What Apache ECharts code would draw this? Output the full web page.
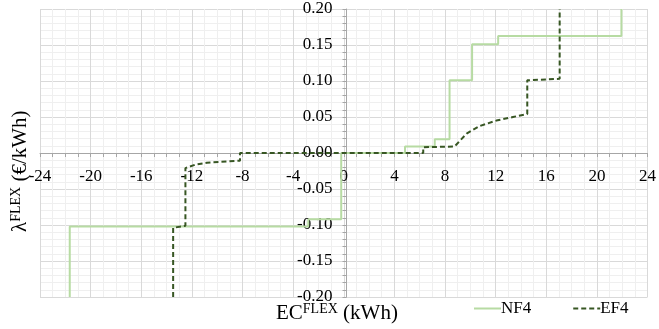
<!DOCTYPE html>
<html>
<head>
<meta charset="utf-8">
<script src="https://cdn.jsdelivr.net/npm/echarts@6/dist/echarts.min.js"></script>
<style>html,body{margin:0;padding:0;background:#fff}#c{width:659px;height:329px}</style>
</head>
<body>
<div id="c"></div>
<script>
// Data
const seriesNames = ['NF4', 'EF4'];
const nf4X = [-21.65, -21.65, -2.8, -2.8, -0.2, -0.2, 4.84, 4.84, 7.19, 7.19, 8.36, 8.36, 10.14, 10.14, 12.2, 12.2, 21.94, 21.94];
const nf4Y = [-0.20, -0.102, -0.102, -0.092, -0.092, 0, 0, 0.009, 0.009, 0.019, 0.019, 0.101, 0.101, 0.151, 0.151, 0.1625, 0.1625, 0.20];
const ef4X = [-13.48, -13.48, -12.51, -12.51, -11.7, -10.82, -8.2, -8.2, 6.28, 6.28, 8.75, 9.71, 10.75, 12.06, 13.37, 14.5, 14.5, 17.06, 17.06];
const ef4Y = [-0.20, -0.104, -0.101, -0.021, -0.016, -0.0135, -0.0107, 0, 0, 0.008, 0.009, 0.027, 0.0375, 0.045, 0.050, 0.054, 0.101, 0.103, 0.20];
const xTicks = [-24, -20, -16, -12, -8, -4, 0, 4, 8, 12, 16, 20, 24];
const yTicks = [-0.20, -0.15, -0.10, -0.05, 0.00, 0.05, 0.10, 0.15, 0.20];

const zip = (xs, ys) => xs.map((x, i) => [x, ys[i]]);
const font = 'Liberation Serif';
const W = 659, H = 329;
const G = {left: 40, right: 6, top: 9, bottom: 32};
const xMin = xTicks[0], xMax = xTicks[xTicks.length - 1];
const yMin = yTicks[0], yMax = yTicks[yTicks.length - 1];
// put each axis where the other axis crosses zero
const plotW = W - G.left - G.right, plotH = H - G.top - G.bottom;
const xAxisOffset = -plotH * (0 - yMin) / (yMax - yMin);
const yAxisOffset = -plotW * (0 - xMin) / (xMax - xMin);

const chart = echarts.init(document.getElementById('c'), null, {renderer: 'canvas'});
chart.setOption({
  animation: false,
  textStyle: {fontFamily: font},
  grid: G,
  xAxis: {
    type: 'value', min: xMin, max: xMax, interval: 4, position: 'bottom', offset: xAxisOffset,
    axisLine: {onZero: false, lineStyle: {color: '#a6a6a6', width: 1}},
    axisTick: {show: true, length: 4, lineStyle: {color: '#a6a6a6'}},
    minorTick: {show: true, splitNumber: 4, length: 4, lineStyle: {color: '#a6a6a6'}},
    splitLine: {show: true, lineStyle: {color: '#d9d9d9', width: 1}},
    minorSplitLine: {show: true, lineStyle: {color: '#efefef', width: 1}},
    axisLabel: {fontFamily: font, fontSize: 17, color: '#000', margin: 15, showMinLabel: true, showMaxLabel: true,
      formatter: v => String(v)}
  },
  yAxis: {
    type: 'value', min: yMin, max: yMax, interval: 0.05, position: 'left', offset: yAxisOffset,
    axisLine: {onZero: false, lineStyle: {color: '#a6a6a6', width: 1}},
    axisTick: {show: true, length: 4, lineStyle: {color: '#a6a6a6'}},
    minorTick: {show: true, splitNumber: 5, length: 4, lineStyle: {color: '#a6a6a6'}},
    splitLine: {show: true, lineStyle: {color: '#d9d9d9', width: 1}},
    minorSplitLine: {show: true, lineStyle: {color: '#efefef', width: 1}},
    axisLabel: {fontFamily: font, fontSize: 17, color: '#000', margin: 14, showMinLabel: true, showMaxLabel: true,
      formatter: v => v.toFixed(2)}
  },
  legend: {
    left: 473, top: 300, padding: 0, itemWidth: 27, itemHeight: 12, itemGap: 41,
    itemStyle: {opacity: 0},
    textStyle: {fontFamily: font, fontSize: 17, color: '#000', padding: [0, 0, 0, -5]},
    data: seriesNames
  },
  graphic: [
    {type: 'text', left: 276, top: 302, style: {
      text: '{a|EC}{s|FLEX}{a| (kWh)}', fill: '#000',
      rich: {a: {fontFamily: font, fontSize: 21, fill: '#000', lineHeight: 22},
             s: {fontFamily: font, fontSize: 14, fill: '#000', padding: [0, 0, 8, 0], lineHeight: 22}}
    }},
    {type: 'text', x: 9, y: 232, rotation: Math.PI / 2, style: {
      text: '{a|λ}{s|FLEX}{a| (€/kWh)}', fill: '#000',
      rich: {a: {fontFamily: font, fontSize: 21, fill: '#000', lineHeight: 22},
             s: {fontFamily: font, fontSize: 14, fill: '#000', padding: [0, 0, 8, 0], lineHeight: 22}}
    }}
  ],
  series: [
    {name: seriesNames[0], type: 'line', data: zip(nf4X, nf4Y), symbol: 'none', z: 2,
      lineStyle: {color: '#b7dba3', width: 2}, itemStyle: {color: '#b7dba3'}},
    {name: seriesNames[1], type: 'line', data: zip(ef4X, ef4Y), symbol: 'none', z: 3,
      lineStyle: {color: '#375623', width: 2, type: [5, 3]}, itemStyle: {color: '#375623'}}
  ]
});
</script>
</body>
</html>
